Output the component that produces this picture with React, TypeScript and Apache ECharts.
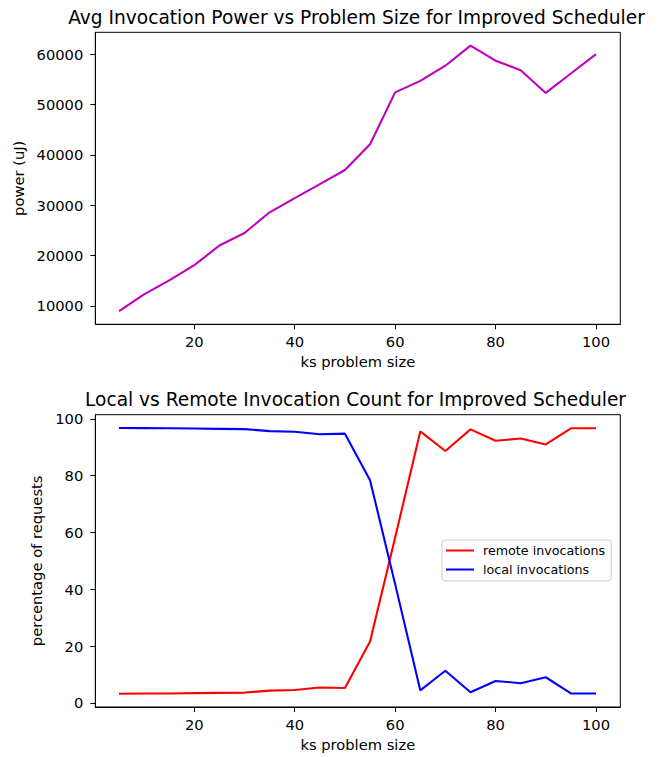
import React, { useEffect, useRef } from "react";
import * as echarts from "echarts";

const problemSizes = [5, 10, 15, 20, 25, 30, 35, 40, 45, 50, 55, 60, 65, 70, 75, 80, 85, 90, 95, 100];
const powerValues = [9000, 12300, 15100, 18100, 22000, 24500, 28600, 31400, 34200, 37000, 42100, 52400, 54700, 57700, 61700, 58700, 56800, 52300, 56150, 60000];
const remoteValues = [3.2, 3.25, 3.3, 3.4, 3.5, 3.6, 4.3, 4.5, 5.4, 5.2, 21.6, 58.2, 95.6, 88.7, 96.3, 92.3, 93.1, 91.0, 96.7, 96.7];
const localValues = [96.8, 96.75, 96.7, 96.6, 96.5, 96.4, 95.7, 95.5, 94.6, 94.8, 78.4, 41.8, 4.4, 11.3, 3.7, 7.7, 6.9, 9.0, 3.3, 3.3];
const xTicks = [20, 40, 60, 80, 100];
const powerTicks = [10000, 20000, 30000, 40000, 50000, 60000];
const percentTicks = [0, 20, 40, 60, 80, 100];

const FONT = "DejaVu Sans";
const TICK_SIZE = 14.7;
const TITLE_SIZE = 18.6;

export default function App() {
  const ref = useRef<HTMLDivElement>(null);
  useEffect(() => {
    if (!ref.current) return;
    const chart = echarts.init(ref.current, undefined, { renderer: "svg" });
    const axisCommon = {
      axisLine: { show: true, onZero: false, lineStyle: { color: "#000", width: 1 } },
      axisTick: { show: true, length: 5, lineStyle: { color: "#000", width: 1 } },
      splitLine: { show: false },
      axisLabel: { color: "#000", fontFamily: FONT, fontSize: TICK_SIZE, formatter: (v: number) => String(v) },
      nameTextStyle: { color: "#000", fontFamily: FONT, fontSize: TICK_SIZE },
    };
    const xAxisFor = (gridIndex: number) => ({
      ...axisCommon,
      type: "value",
      gridIndex,
      min: 0.28,
      max: 104.84,
      name: "ks problem size",
      nameLocation: "middle",
      nameGap: 30,
      axisTick: { ...axisCommon.axisTick, customValues: xTicks },
      axisLabel: { ...axisCommon.axisLabel, customValues: xTicks, margin: 10 },
    });
    const pMin = Math.min(...powerValues);
    const pMax = Math.max(...powerValues);
    const pPad = (pMax - pMin) * 0.05;
    const all = [...remoteValues, ...localValues];
    const cMin = Math.min(...all);
    const cMax = Math.max(...all);
    const cPad = (cMax - cMin) * 0.05;
    chart.setOption({
      animation: false,
      backgroundColor: "#fff",
      title: [
        {
          text: "Avg Invocation Power vs Problem Size for Improved Scheduler",
          left: 351.5,
          textAlign: "center",
          top: 3,
          textStyle: { fontFamily: FONT, fontSize: TITLE_SIZE, fontWeight: "normal", color: "#000" },
        },
        {
          text: "Local vs Remote Invocation Count for Improved Scheduler",
          left: 350.5,
          textAlign: "center",
          top: 385,
          textStyle: { fontFamily: FONT, fontSize: TITLE_SIZE, fontWeight: "normal", color: "#000" },
        },
      ],
      grid: [
        { left: 95.3, width: 525, top: 32.3, height: 292, show: true, borderColor: "#000", borderWidth: 1 },
        { left: 95.3, width: 525, top: 414.7, height: 292.3, show: true, borderColor: "#000", borderWidth: 1 },
      ],
      xAxis: [xAxisFor(0), xAxisFor(1)],
      yAxis: [
        {
          ...axisCommon,
          type: "value",
          gridIndex: 0,
          min: pMin - pPad,
          max: pMax + pPad,
          name: "power (uJ)",
          nameLocation: "middle",
          nameGap: 64,
          nameRotate: 90,
          axisTick: { ...axisCommon.axisTick, customValues: powerTicks },
          axisLabel: { ...axisCommon.axisLabel, customValues: powerTicks, margin: 12 },
        },
        {
          ...axisCommon,
          type: "value",
          gridIndex: 1,
          min: cMin - cPad,
          max: cMax + cPad,
          name: "percentage of requests",
          nameLocation: "middle",
          nameGap: 43,
          nameRotate: 90,
          axisTick: { ...axisCommon.axisTick, customValues: percentTicks },
          axisLabel: { ...axisCommon.axisLabel, customValues: percentTicks, margin: 12 },
        },
      ],
      legend: {
        left: 442,
        top: 540,
        orient: "vertical",
        data: ["remote invocations", "local invocations"],
        icon: "rect",
        itemWidth: 28,
        itemHeight: 2,
        itemGap: 4,
        padding: [3, 6, 4, 4],
        borderColor: "#ccc",
        borderWidth: 1,
        borderRadius: 3,
        backgroundColor: "rgba(255,255,255,0.8)",
        textStyle: { fontFamily: FONT, fontSize: 12.7, color: "#000", lineHeight: 15, padding: [0, 0, 0, 4] },
      },
      series: [
        {
          type: "line",
          name: "power",
          xAxisIndex: 0,
          yAxisIndex: 0,
          data: problemSizes.map((x, i) => [x, powerValues[i]]),
          showSymbol: false,
          lineStyle: { color: "#bf00bf", width: 2.1 },
          itemStyle: { color: "#bf00bf" },
        },
        {
          type: "line",
          name: "remote invocations",
          xAxisIndex: 1,
          yAxisIndex: 1,
          data: problemSizes.map((x, i) => [x, remoteValues[i]]),
          showSymbol: false,
          lineStyle: { color: "#ff0000", width: 2.1 },
          itemStyle: { color: "#ff0000" },
        },
        {
          type: "line",
          name: "local invocations",
          xAxisIndex: 1,
          yAxisIndex: 1,
          data: problemSizes.map((x, i) => [x, localValues[i]]),
          showSymbol: false,
          lineStyle: { color: "#0000ff", width: 2.1 },
          itemStyle: { color: "#0000ff" },
        },
      ],
    });
    return () => chart.dispose();
  }, []);
  return (
    <div
      ref={ref}
      style={{ position: "fixed", left: 0, top: 0, width: 660, height: 757, background: "#fff" }}
    />
  );
}
